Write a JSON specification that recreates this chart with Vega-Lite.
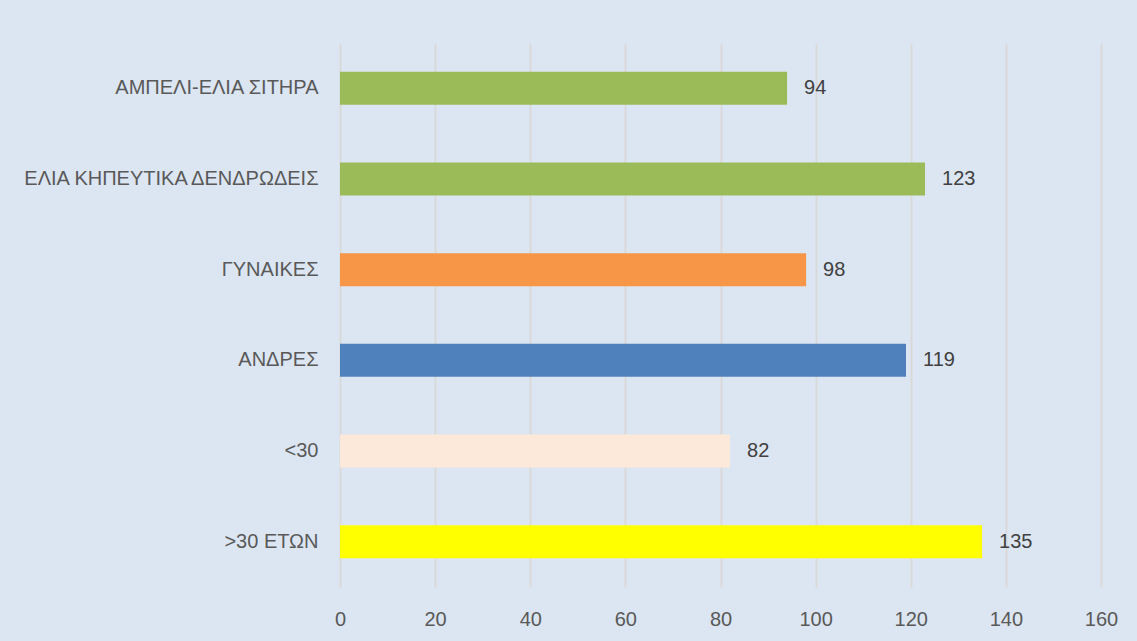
{
  "$schema": "https://vega.github.io/schema/vega-lite/v6.json",
  "width": 761,
  "height": 544,
  "autosize": {"type": "none"},
  "padding": {"left": 340, "top": 43, "right": 36, "bottom": 54},
  "background": "#DCE6F2",
  "config": {
    "view": {"stroke": null},
    "font": "Liberation Sans"
  },
  "data": {
    "values": [
      {"category": "ΑΜΠΕΛΙ-ΕΛΙΑ ΣΙΤΗΡΑ", "value": 94, "color": "#9BBB59"},
      {"category": "ΕΛΙΑ ΚΗΠΕΥΤΙΚΑ ΔΕΝΔΡΩΔΕΙΣ", "value": 123, "color": "#9BBB59"},
      {"category": "ΓΥΝΑΙΚΕΣ", "value": 98, "color": "#F79646"},
      {"category": "ΑΝΔΡΕΣ", "value": 119, "color": "#4F81BD"},
      {"category": "<30", "value": 82, "color": "#FDE9D9"},
      {"category": ">30 ΕΤΩΝ", "value": 135, "color": "#FFFF00"}
    ]
  },
  "encoding": {
    "y": {
      "field": "category",
      "type": "nominal",
      "sort": null,
      "scale": {"paddingInner": 0.636, "paddingOuter": 0.318},
      "axis": {
        "title": null,
        "domain": false,
        "ticks": false,
        "labelPadding": 22,
        "labelFontSize": 20,
        "labelColor": "#595959",
        "labelLimit": 400
      }
    },
    "x": {
      "field": "value",
      "type": "quantitative",
      "scale": {"domain": [0, 160], "nice": false},
      "axis": {
        "title": null,
        "values": [0, 20, 40, 60, 80, 100, 120, 140, 160],
        "domain": false,
        "ticks": false,
        "grid": true,
        "gridColor": "#D9D9D9",
        "gridWidth": 2,
        "labelFlush": false,
        "labelPadding": 22,
        "labelFontSize": 20,
        "labelColor": "#595959"
      }
    }
  },
  "layer": [
    {
      "mark": {"type": "bar"},
      "encoding": {
        "color": {"field": "color", "type": "nominal", "scale": null, "legend": null}
      }
    },
    {
      "mark": {"type": "text", "align": "left", "dx": 17, "fontSize": 20, "color": "#404040", "baseline": "middle"},
      "encoding": {
        "text": {"field": "value", "type": "quantitative"}
      }
    }
  ]
}
